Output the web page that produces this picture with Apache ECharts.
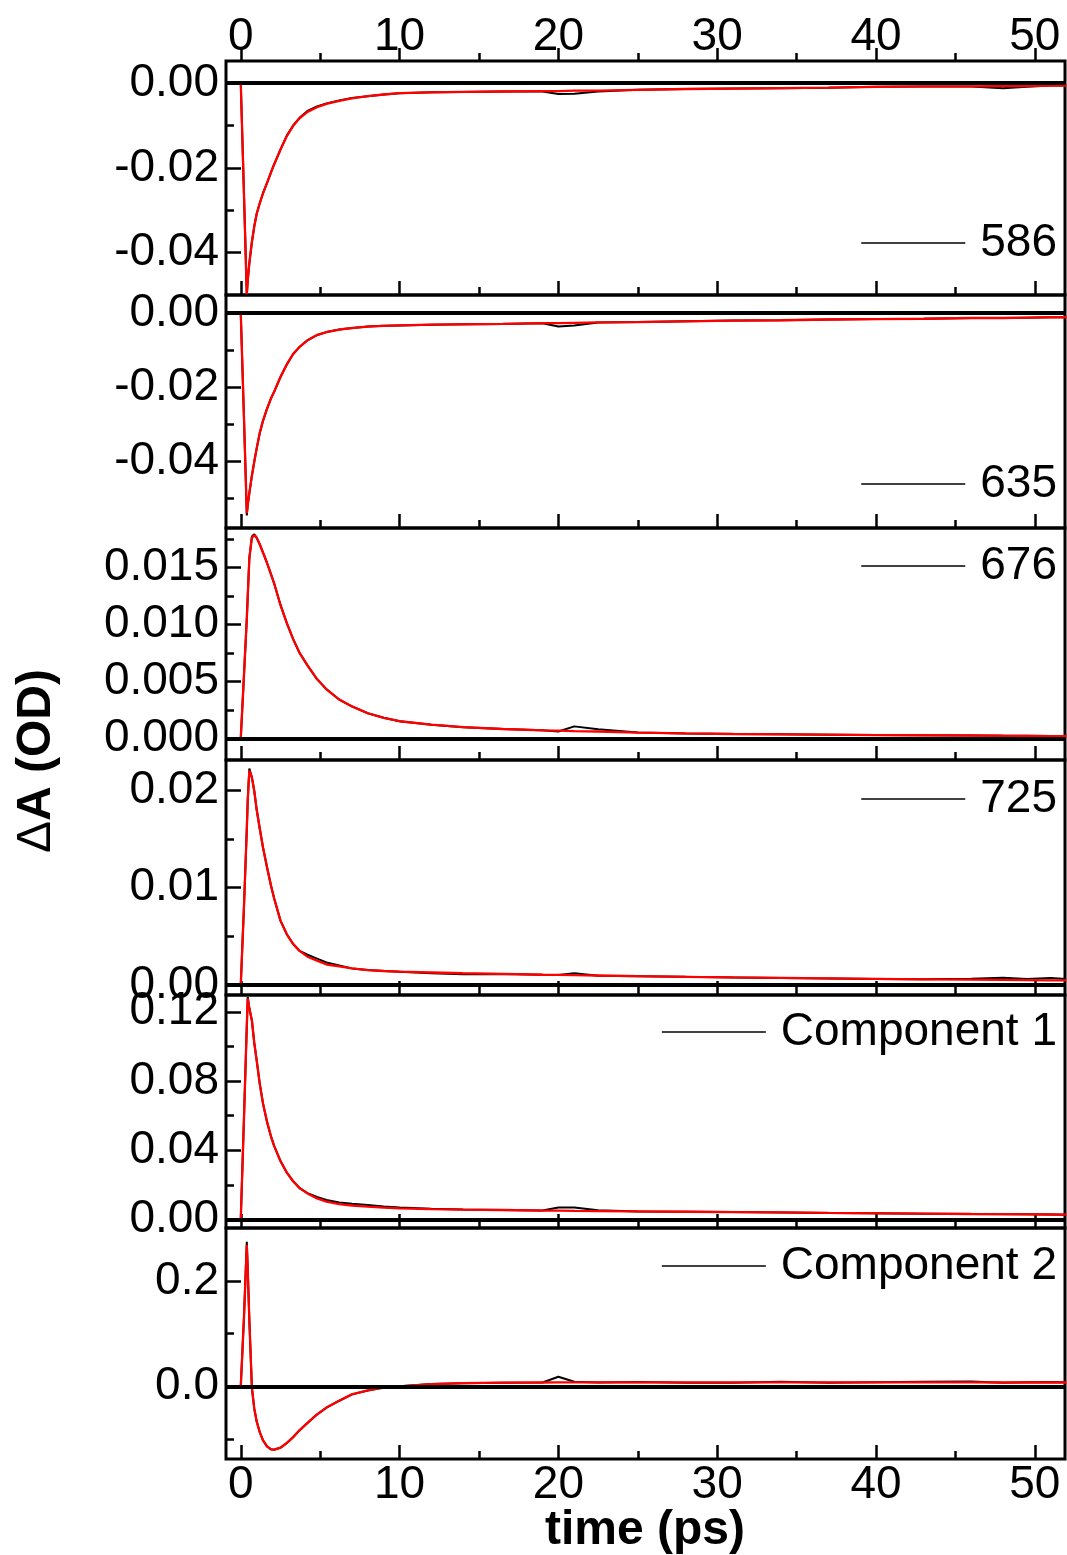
<!DOCTYPE html>
<html><head><meta charset="utf-8">
<script src="https://cdn.jsdelivr.net/npm/echarts@6/dist/echarts.min.js"></script>
<style>html,body{margin:0;padding:0;background:#fff}#c{width:1067px;height:1555px}</style>
</head><body><div id="c"></div>
<script>
// ---- data ----
const time = [0, 0.2, 0.38, 0.44, 0.54, 0.7, 0.85, 1.0, 1.2, 1.4, 1.65, 1.9, 2.1, 2.5, 2.9, 3.3, 3.7, 4.2, 4.8, 5.4, 6.2, 7, 8, 9, 10, 12, 14, 16.5, 19, 20, 21, 22.5, 25, 28, 31, 34, 37, 40, 43, 46, 48, 49.5, 51, 52];

const data586 = [0, -0.026, -0.0500, -0.0465, -0.0425, -0.0375, -0.0338, -0.0309, -0.0283, -0.0260, -0.0236, -0.0211, -0.0192, -0.0157, -0.0124, -0.0100, -0.0082, -0.0066, -0.0055, -0.0048, -0.0041, -0.0035, -0.0031, -0.0027, -0.0024, -0.0022, -0.0021, -0.0020, -0.0020, -0.0026, -0.0025, -0.0020, -0.0016, -0.0014, -0.0013, -0.0012, -0.0011, -0.0009, -0.0008, -0.0008, -0.0012, -0.0009, -0.0006, -0.0006];
const fit586 = [0, -0.026, -0.0498, -0.0465, -0.0425, -0.0375, -0.0338, -0.0309, -0.0283, -0.0260, -0.0236, -0.0211, -0.0192, -0.0157, -0.0125, -0.0101, -0.0083, -0.0068, -0.0057, -0.0049, -0.0042, -0.0036, -0.0031, -0.0027, -0.0024, -0.0022, -0.0021, -0.0020, -0.0019, -0.0019, -0.0018, -0.0018, -0.0016, -0.0014, -0.0013, -0.0012, -0.0011, -0.0009, -0.0008, -0.0008, -0.0007, -0.0007, -0.0006, -0.0006];

const data635 = [0, -0.028, -0.0545, -0.0517, -0.0485, -0.0438, -0.0400, -0.0365, -0.0322, -0.0290, -0.0258, -0.0230, -0.0212, -0.0172, -0.0138, -0.0110, -0.0091, -0.0073, -0.0059, -0.0051, -0.0044, -0.0040, -0.0036, -0.0034, -0.0033, -0.0031, -0.0030, -0.0029, -0.0027, -0.0036, -0.0033, -0.0025, -0.0024, -0.0022, -0.0020, -0.0019, -0.0017, -0.0016, -0.0015, -0.0013, -0.0013, -0.0012, -0.0011, -0.0011];
const fit635 = [0, -0.028, -0.0539, -0.0515, -0.0485, -0.0438, -0.0400, -0.0365, -0.0322, -0.0290, -0.0258, -0.0230, -0.0212, -0.0172, -0.0138, -0.0110, -0.0091, -0.0073, -0.0059, -0.0051, -0.0044, -0.0040, -0.0036, -0.0034, -0.0033, -0.0031, -0.0030, -0.0029, -0.0027, -0.0027, -0.0026, -0.0025, -0.0024, -0.0022, -0.0020, -0.0019, -0.0017, -0.0016, -0.0015, -0.0013, -0.0013, -0.0012, -0.0011, -0.0011];

const data676 = [0, 0.0055, 0.0105, 0.0125, 0.0158, 0.0177, 0.0179, 0.0176, 0.0170, 0.0163, 0.0154, 0.0144, 0.0136, 0.0117, 0.0101, 0.0087, 0.0075, 0.0064, 0.0052, 0.0043, 0.0034, 0.0028, 0.0022, 0.0018, 0.0015, 0.0012, 0.00098, 0.00082, 0.0007, 0.0006, 0.00105, 0.0008, 0.00052, 0.00043, 0.00038, 0.00035, 0.00032, 0.00029, 0.00027, 0.00025, 0.00023, 0.00022, 0.0002, 0.0002];
const fit676 = [0, 0.0055, 0.0105, 0.0125, 0.0158, 0.0176, 0.0178, 0.0176, 0.0170, 0.0163, 0.0154, 0.0144, 0.0136, 0.0117, 0.0101, 0.0087, 0.0075, 0.0064, 0.0052, 0.0043, 0.0034, 0.0028, 0.0022, 0.0018, 0.0015, 0.0012, 0.00098, 0.00082, 0.0007, 0.00067, 0.00064, 0.0006, 0.0005, 0.00043, 0.00038, 0.00035, 0.00032, 0.00029, 0.00027, 0.00025, 0.00023, 0.00022, 0.0002, 0.0002];

const data725 = [0, 0.008, 0.016, 0.019, 0.0222, 0.0213, 0.0199, 0.0180, 0.0160, 0.0141, 0.0121, 0.0102, 0.0089, 0.0066, 0.0052, 0.0042, 0.0035, 0.0031, 0.0027, 0.0023, 0.0020, 0.0017, 0.00153, 0.00143, 0.00136, 0.0012, 0.0011, 0.00113, 0.00105, 0.00103, 0.0012, 0.00095, 0.0009, 0.00083, 0.00077, 0.00072, 0.00067, 0.00062, 0.00058, 0.00065, 0.00075, 0.0006, 0.00072, 0.0006];
const fit725 = [0, 0.008, 0.016, 0.019, 0.0220, 0.0213, 0.0199, 0.0180, 0.0160, 0.0141, 0.0121, 0.0102, 0.0089, 0.0066, 0.0052, 0.0042, 0.0035, 0.0029, 0.0025, 0.0021, 0.0019, 0.0017, 0.00153, 0.00143, 0.00136, 0.00128, 0.0012, 0.00113, 0.00105, 0.00103, 0.001, 0.00097, 0.0009, 0.00083, 0.00077, 0.00072, 0.00067, 0.00062, 0.00058, 0.00055, 0.00052, 0.0005, 0.00048, 0.00048];

const dataComp1 = [0, 0.058, 0.112, 0.1285, 0.122, 0.115, 0.102, 0.092, 0.078, 0.067, 0.0565, 0.048, 0.0425, 0.0337, 0.0270, 0.0220, 0.0181, 0.0152, 0.0130, 0.0112, 0.0098, 0.0090, 0.0083, 0.0075, 0.0068, 0.0062, 0.0057, 0.0054, 0.0051, 0.0068, 0.0069, 0.0052, 0.0046, 0.0044, 0.0042, 0.0040, 0.0037, 0.0035, 0.0033, 0.0031, 0.0030, 0.0029, 0.0028, 0.0027];
const fitComp1 = [0, 0.058, 0.112, 0.1277, 0.122, 0.115, 0.102, 0.092, 0.078, 0.067, 0.0565, 0.048, 0.0425, 0.0337, 0.0270, 0.0220, 0.0181, 0.0150, 0.0121, 0.0102, 0.0088, 0.0080, 0.0073, 0.0068, 0.0064, 0.0059, 0.0056, 0.0054, 0.0051, 0.0050, 0.0049, 0.0048, 0.0046, 0.0044, 0.0042, 0.0040, 0.0037, 0.0035, 0.0033, 0.0031, 0.0030, 0.0029, 0.0028, 0.0027];

const dataComp2 = [0, 0.13, 0.2744, 0.22, 0.126, -0.002, -0.042, -0.066, -0.087, -0.102, -0.1135, -0.119, -0.1198, -0.1160, -0.1070, -0.0960, -0.0830, -0.0690, -0.0530, -0.0400, -0.0270, -0.0150, -0.0075, -0.0020, 0.0003, 0.0045, 0.0062, 0.0072, 0.0076, 0.0185, 0.0090, 0.0077, 0.0085, 0.0072, 0.0070, 0.0088, 0.0072, 0.0080, 0.0088, 0.0095, 0.0070, 0.0082, 0.0085, 0.0080];
const fitComp2 = [0, 0.13, 0.268, 0.22, 0.126, -0.002, -0.042, -0.066, -0.087, -0.102, -0.1135, -0.119, -0.1198, -0.1160, -0.1070, -0.0960, -0.0830, -0.0690, -0.0530, -0.0400, -0.0270, -0.0150, -0.0075, -0.0020, 0.0003, 0.0045, 0.0062, 0.0072, 0.0076, 0.0077, 0.0077, 0.0077, 0.0077, 0.0077, 0.0077, 0.0077, 0.0077, 0.0077, 0.0077, 0.0077, 0.0076, 0.0076, 0.0076, 0.0076];

// ---- ticks ----
const xMajor = [0, 10, 20, 30, 40, 50];
const xMinor = [5, 15, 25, 35, 45];
const yMajor586 = [0, -0.02, -0.04];
const yMinor586 = [-0.01, -0.03];
const yMajor635 = [0, -0.02, -0.04];
const yMinor635 = [-0.01, -0.03, -0.05];
const yMajor676 = [0, 0.005, 0.010, 0.015];
const yMinor676 = [0.0025, 0.0075, 0.0125, 0.0175];
const yMajor725 = [0, 0.01, 0.02];
const yMinor725 = [0.005, 0.015];
const yMajorC1 = [0, 0.04, 0.08, 0.12];
const yMinorC1 = [0.02, 0.06, 0.10];
const yMajorC2 = [0, 0.2];
const yMinorC2 = [-0.1, 0.1];

// ---- layout ----
const FONT = '"Liberation Sans", Arial, Helvetica, sans-serif';
const FS = 46;
const XMIN = -0.93, XMAX = 51.9;
const panels = [
  {name: '586', data: data586, fit: fit586, top: 61, height: 234, min: -0.05, max: 0.0052, major: yMajor586, minor: yMinor586, dec: 2, legendY: 243},
  {name: '635', data: data635, fit: fit635, top: 295, height: 233, min: -0.0579, max: 0.0049, major: yMajor635, minor: yMinor635, dec: 2, legendY: 484},
  {name: '676', data: data676, fit: fit676, top: 528, height: 232, min: -0.0019, max: 0.01845, major: yMajor676, minor: yMinor676, dec: 3, legendY: 566},
  {name: '725', data: data725, fit: fit725, top: 760, height: 235, min: -0.00103, max: 0.02308, major: yMajor725, minor: yMinor725, dec: 2, legendY: 799},
  {name: 'Component 1', data: dataComp1, fit: fitComp1, top: 995, height: 233, min: -0.005, max: 0.1297, major: yMajorC1, minor: yMinorC1, dec: 2, legendY: 1032},
  {name: 'Component 2', data: dataComp2, fit: fitComp2, top: 1228, height: 231, min: -0.1374, max: 0.3003, major: yMajorC2, minor: yMinorC2, dec: 1, legendY: 1266}
];

const tickLine = {color: '#000', width: 2.5};
const grid = [], xAxis = [], yAxis = [], series = [], legend = [];
panels.forEach((p, i) => {
  grid.push({left: 226, right: 2, top: p.top, height: p.height, show: true, borderColor: '#000', borderWidth: 3, backgroundColor: 'transparent'});
  const isLast = i === panels.length - 1;
  xAxis.push({type: 'value', gridIndex: i, min: XMIN, max: XMAX, position: 'bottom',
    axisLine: {show: false, onZero: false}, splitLine: {show: false},
    axisTick: {show: true, inside: true, length: 14, customValues: xMajor, lineStyle: tickLine},
    axisLabel: {show: isLast, customValues: xMajor, fontSize: FS, color: '#000', fontFamily: FONT, margin: 3}});
  xAxis.push({type: 'value', gridIndex: i, min: XMIN, max: XMAX, position: 'bottom',
    axisLine: {show: false, onZero: false}, splitLine: {show: false},
    axisTick: {show: true, inside: true, length: 8, customValues: xMinor, lineStyle: tickLine},
    axisLabel: {show: false}});
  yAxis.push({type: 'value', gridIndex: i, min: p.min, max: p.max, position: 'left',
    axisLine: {show: false, onZero: false}, splitLine: {show: false},
    axisTick: {show: true, inside: true, length: 15, customValues: p.major, lineStyle: tickLine},
    axisLabel: {show: true, customValues: p.major, fontSize: FS, color: '#000', fontFamily: FONT, margin: 7,
      formatter: v => Number(v).toFixed(p.dec)}});
  yAxis.push({type: 'value', gridIndex: i, min: p.min, max: p.max, position: 'left',
    axisLine: {show: false, onZero: false}, splitLine: {show: false},
    axisTick: {show: true, inside: true, length: 8, customValues: p.minor, lineStyle: tickLine},
    axisLabel: {show: false}});
  series.push({type: 'line', name: p.name, xAxisIndex: 2 * i, yAxisIndex: 2 * i,
    data: time.map((t, k) => [t, p.data[k]]), symbol: 'none', showSymbol: false,
    lineStyle: {color: '#000', width: 2}, itemStyle: {color: '#000'}, z: 2,
    markLine: {silent: true, symbol: 'none', label: {show: false},
      lineStyle: {color: '#000', width: 4, type: 'solid'}, data: [{yAxis: 0}]}});
  series.push({type: 'line', name: 'fit ' + p.name, xAxisIndex: 2 * i, yAxisIndex: 2 * i,
    data: time.map((t, k) => [t, p.fit[k]]), symbol: 'none', showSymbol: false,
    lineStyle: {color: '#ff0000', width: 2.3}, itemStyle: {color: '#ff0000'}, z: 3});
  legend.push({data: [p.name], right: 10, top: p.legendY - FS / 2, padding: 0, icon: 'rect',
    itemWidth: 104, itemHeight: 1.5, selectedMode: false,
    textStyle: {fontSize: FS, lineHeight: FS, color: '#000', fontFamily: FONT, padding: [0, 0, 0, 10]}});
});
// top axis of first panel
xAxis.push({type: 'value', gridIndex: 0, min: XMIN, max: XMAX, position: 'top',
  axisLine: {show: false, onZero: false}, splitLine: {show: false},
  axisTick: {show: true, inside: false, length: 13, customValues: xMajor, lineStyle: tickLine},
  axisLabel: {show: true, customValues: xMajor, fontSize: FS, color: '#000', fontFamily: FONT, margin: 1}});
xAxis.push({type: 'value', gridIndex: 0, min: XMIN, max: XMAX, position: 'top',
  axisLine: {show: false, onZero: false}, splitLine: {show: false},
  axisTick: {show: true, inside: false, length: 8, customValues: xMinor, lineStyle: tickLine},
  axisLabel: {show: false}});

const chart = echarts.init(document.getElementById('c'), null, {renderer: 'canvas'});
chart.setOption({
  animation: false,
  backgroundColor: '#fff',
  grid, xAxis, yAxis, series, legend,
  graphic: [
    {type: 'text', x: 37, y: 761, rotation: Math.PI / 2,
      style: {text: '{d|\u0394}{b|A (OD)}', align: 'center', verticalAlign: 'middle', fill: '#000',
        rich: {d: {fontSize: 48, fontWeight: 'normal', fontFamily: FONT, fill: '#000'},
               b: {fontSize: 48, fontWeight: 'bold', fontFamily: FONT, fill: '#000'}}}},
    {type: 'text', x: 645, y: 1531,
      style: {text: 'time (ps)', align: 'center', verticalAlign: 'middle', fill: '#000',
        fontSize: 48, fontWeight: 'bold', fontFamily: FONT}}
  ]
});
</script></body></html>
